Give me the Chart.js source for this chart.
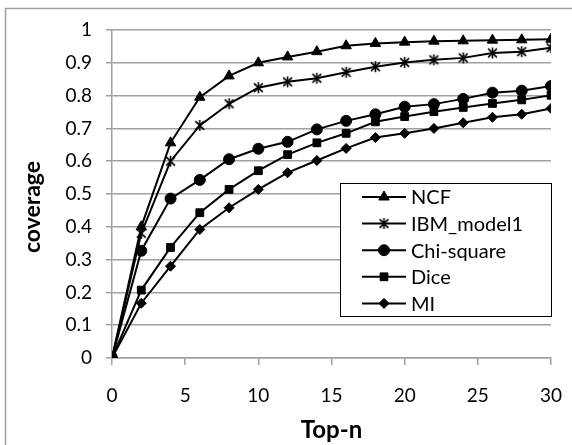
<!DOCTYPE html>
<html>
<head>
<meta charset="utf-8">
<script src="https://cdn.jsdelivr.net/npm/chart.js@4.4.0/dist/chart.umd.min.js"></script>
<style>
  html, body { margin: 0; padding: 0; background: #fff; }
  #wrap { width: 572px; height: 445px; }
</style>
</head>
<body>
<div id="wrap"><canvas id="chart" width="572" height="445"></canvas></div>
<script>
// ===== Data =====
const topN = [0, 2, 4, 6, 8, 10, 12, 14, 16, 18, 20, 22, 24, 26, 28, 30];
const ncf = [0, 0.40, 0.656, 0.795, 0.86, 0.90, 0.918, 0.934, 0.952, 0.959, 0.963, 0.966, 0.967, 0.969, 0.970, 0.972];
const ibmModel1 = [0, 0.38, 0.60, 0.709, 0.775, 0.824, 0.842, 0.853, 0.871, 0.888, 0.901, 0.909, 0.915, 0.930, 0.934, 0.946];
const chiSquare = [0, 0.327, 0.486, 0.543, 0.606, 0.638, 0.659, 0.697, 0.723, 0.743, 0.766, 0.774, 0.790, 0.809, 0.815, 0.829];
const dice = [0, 0.207, 0.337, 0.443, 0.514, 0.571, 0.620, 0.656, 0.685, 0.720, 0.736, 0.751, 0.764, 0.776, 0.787, 0.801];
const mi = [0, 0.167, 0.280, 0.392, 0.458, 0.514, 0.565, 0.602, 0.639, 0.672, 0.685, 0.700, 0.717, 0.734, 0.743, 0.761];
const seriesNames = ["NCF", "IBM_model1", "Chi-square", "Dice", "MI"];

const FONT = "Lato, 'Open Sans', sans-serif";

// ===== Helper: asterisk marker (X with a vertical bar) =====
function makeAsterisk(size) {
  const c = document.createElement("canvas");
  c.width = size; c.height = size;
  const g = c.getContext("2d");
  const m = size / 2, r = size / 2 - 1;
  g.strokeStyle = "#000";
  g.lineWidth = 1.6;
  g.beginPath();
  g.moveTo(m, m - r); g.lineTo(m, m + r);
  g.moveTo(m - r * 0.8, m - r * 0.8); g.lineTo(m + r * 0.8, m + r * 0.8);
  g.moveTo(m + r * 0.8, m - r * 0.8); g.lineTo(m - r * 0.8, m + r * 0.8);
  g.stroke();
  return c;
}
const asterisk = makeAsterisk(13);

function series(label, values, pointStyle, radius) {
  return {
    label,
    data: values.map((v, i) => ({ x: topN[i], y: v })),
    borderColor: "#000",
    backgroundColor: "#000",
    borderWidth: 2,
    pointStyle,
    pointRadius: radius,
    pointBorderWidth: 1,
    pointBackgroundColor: "#000",
    pointBorderColor: "#000",
    tension: 0
  };
}

const datasets = [
  series(seriesNames[0], ncf, "triangle", 6),
  series(seriesNames[1], ibmModel1, asterisk, 6),
  series(seriesNames[2], chiSquare, "circle", 5.5),
  series(seriesNames[3], dice, "rect", 5.5),
  series(seriesNames[4], mi, "rectRot", 5)
];

// ===== Plugin: outer frame, y title and inside legend =====
const decorations = {
  id: "decorations",
  beforeDraw(chart) {
    const ctx = chart.ctx;
    ctx.save();
    ctx.fillStyle = "#fff";
    ctx.fillRect(0, 0, chart.width, chart.height);
    ctx.strokeStyle = "#a0a0a0";
    ctx.lineWidth = 1.5;
    ctx.strokeRect(5.5, 8.5, chart.width + 20, chart.height + 20);
    ctx.restore();
  },
  afterDraw(chart) {
    const ctx = chart.ctx;
    ctx.save();
    // y axis title
    ctx.translate(33, 207);
    ctx.rotate(-Math.PI / 2);
    ctx.font = "bold 23px " + FONT;
    ctx.fillStyle = "#000";
    ctx.textAlign = "center";
    ctx.textBaseline = "middle";
    ctx.fillText("coverage", 0, 0);
    ctx.restore();

    // legend box
    ctx.save();
    const bx = 340.5, by = 183.5, bw = 211, bh = 133;
    ctx.fillStyle = "#fff";
    ctx.fillRect(bx, by, bw, bh);
    ctx.strokeStyle = "#000";
    ctx.lineWidth = 1;
    ctx.strokeRect(bx, by, bw, bh);
    ctx.font = "20px " + FONT;
    ctx.textBaseline = "middle";
    ctx.textAlign = "left";
    chart.data.datasets.forEach((ds, i) => {
      const y = 197 + i * 26.6;
      ctx.strokeStyle = "#000";
      ctx.lineWidth = 2;
      ctx.beginPath();
      ctx.moveTo(362, y);
      ctx.lineTo(406, y);
      ctx.stroke();
      ctx.fillStyle = "#000";
      ctx.lineWidth = 1;
      Chart.helpers.drawPoint(ctx, { pointStyle: ds.pointStyle, radius: ds.pointRadius, borderWidth: 1 }, 384, y);
      ctx.fillStyle = "#000";
      ctx.fillText(ds.label, 411, y + 1);
    });
    ctx.restore();
  }
};

// ===== Render Chart =====
new Chart(document.getElementById("chart"), {
  type: "line",
  data: { datasets },
  plugins: [decorations],
  options: {
    responsive: false,
    animation: false,
    devicePixelRatio: 1,
    layout: { padding: { left: 0, top: 30, right: 21, bottom: 0 } },
    plugins: { legend: { display: false }, tooltip: { enabled: false } },
    scales: {
      x: {
        type: "linear",
        min: 0,
        max: 30,
        afterFit: (s) => { s.height = 87; s.paddingRight = 0; s.paddingLeft = 0; },
        ticks: { stepSize: 5, color: "#000", padding: 19, font: { family: FONT, size: 19 } },
        grid: { drawOnChartArea: false, drawTicks: true, tickLength: 7, color: "#a0a0a0", lineWidth: 1.5 },
        border: { color: "#a0a0a0", width: 1.5 },
        title: { display: true, text: "Top-n", color: "#000", font: { family: FONT, size: 24, weight: "bold" }, padding: { top: 0, bottom: 0 } }
      },
      y: {
        min: 0,
        max: 1,
        afterFit: (s) => { s.width = 112; s.paddingTop = 0; s.paddingBottom = 0; },
        ticks: {
          stepSize: 0.1, color: "#000", padding: 14, font: { family: FONT, size: 19 },
          callback: (v) => String(Number(v.toFixed(1)))
        },
        grid: { color: "#a0a0a0", lineWidth: 1.5, tickLength: 6 },
        border: { color: "#a0a0a0", width: 1.5 }
      }
    }
  }
});
</script>
</body>
</html>
